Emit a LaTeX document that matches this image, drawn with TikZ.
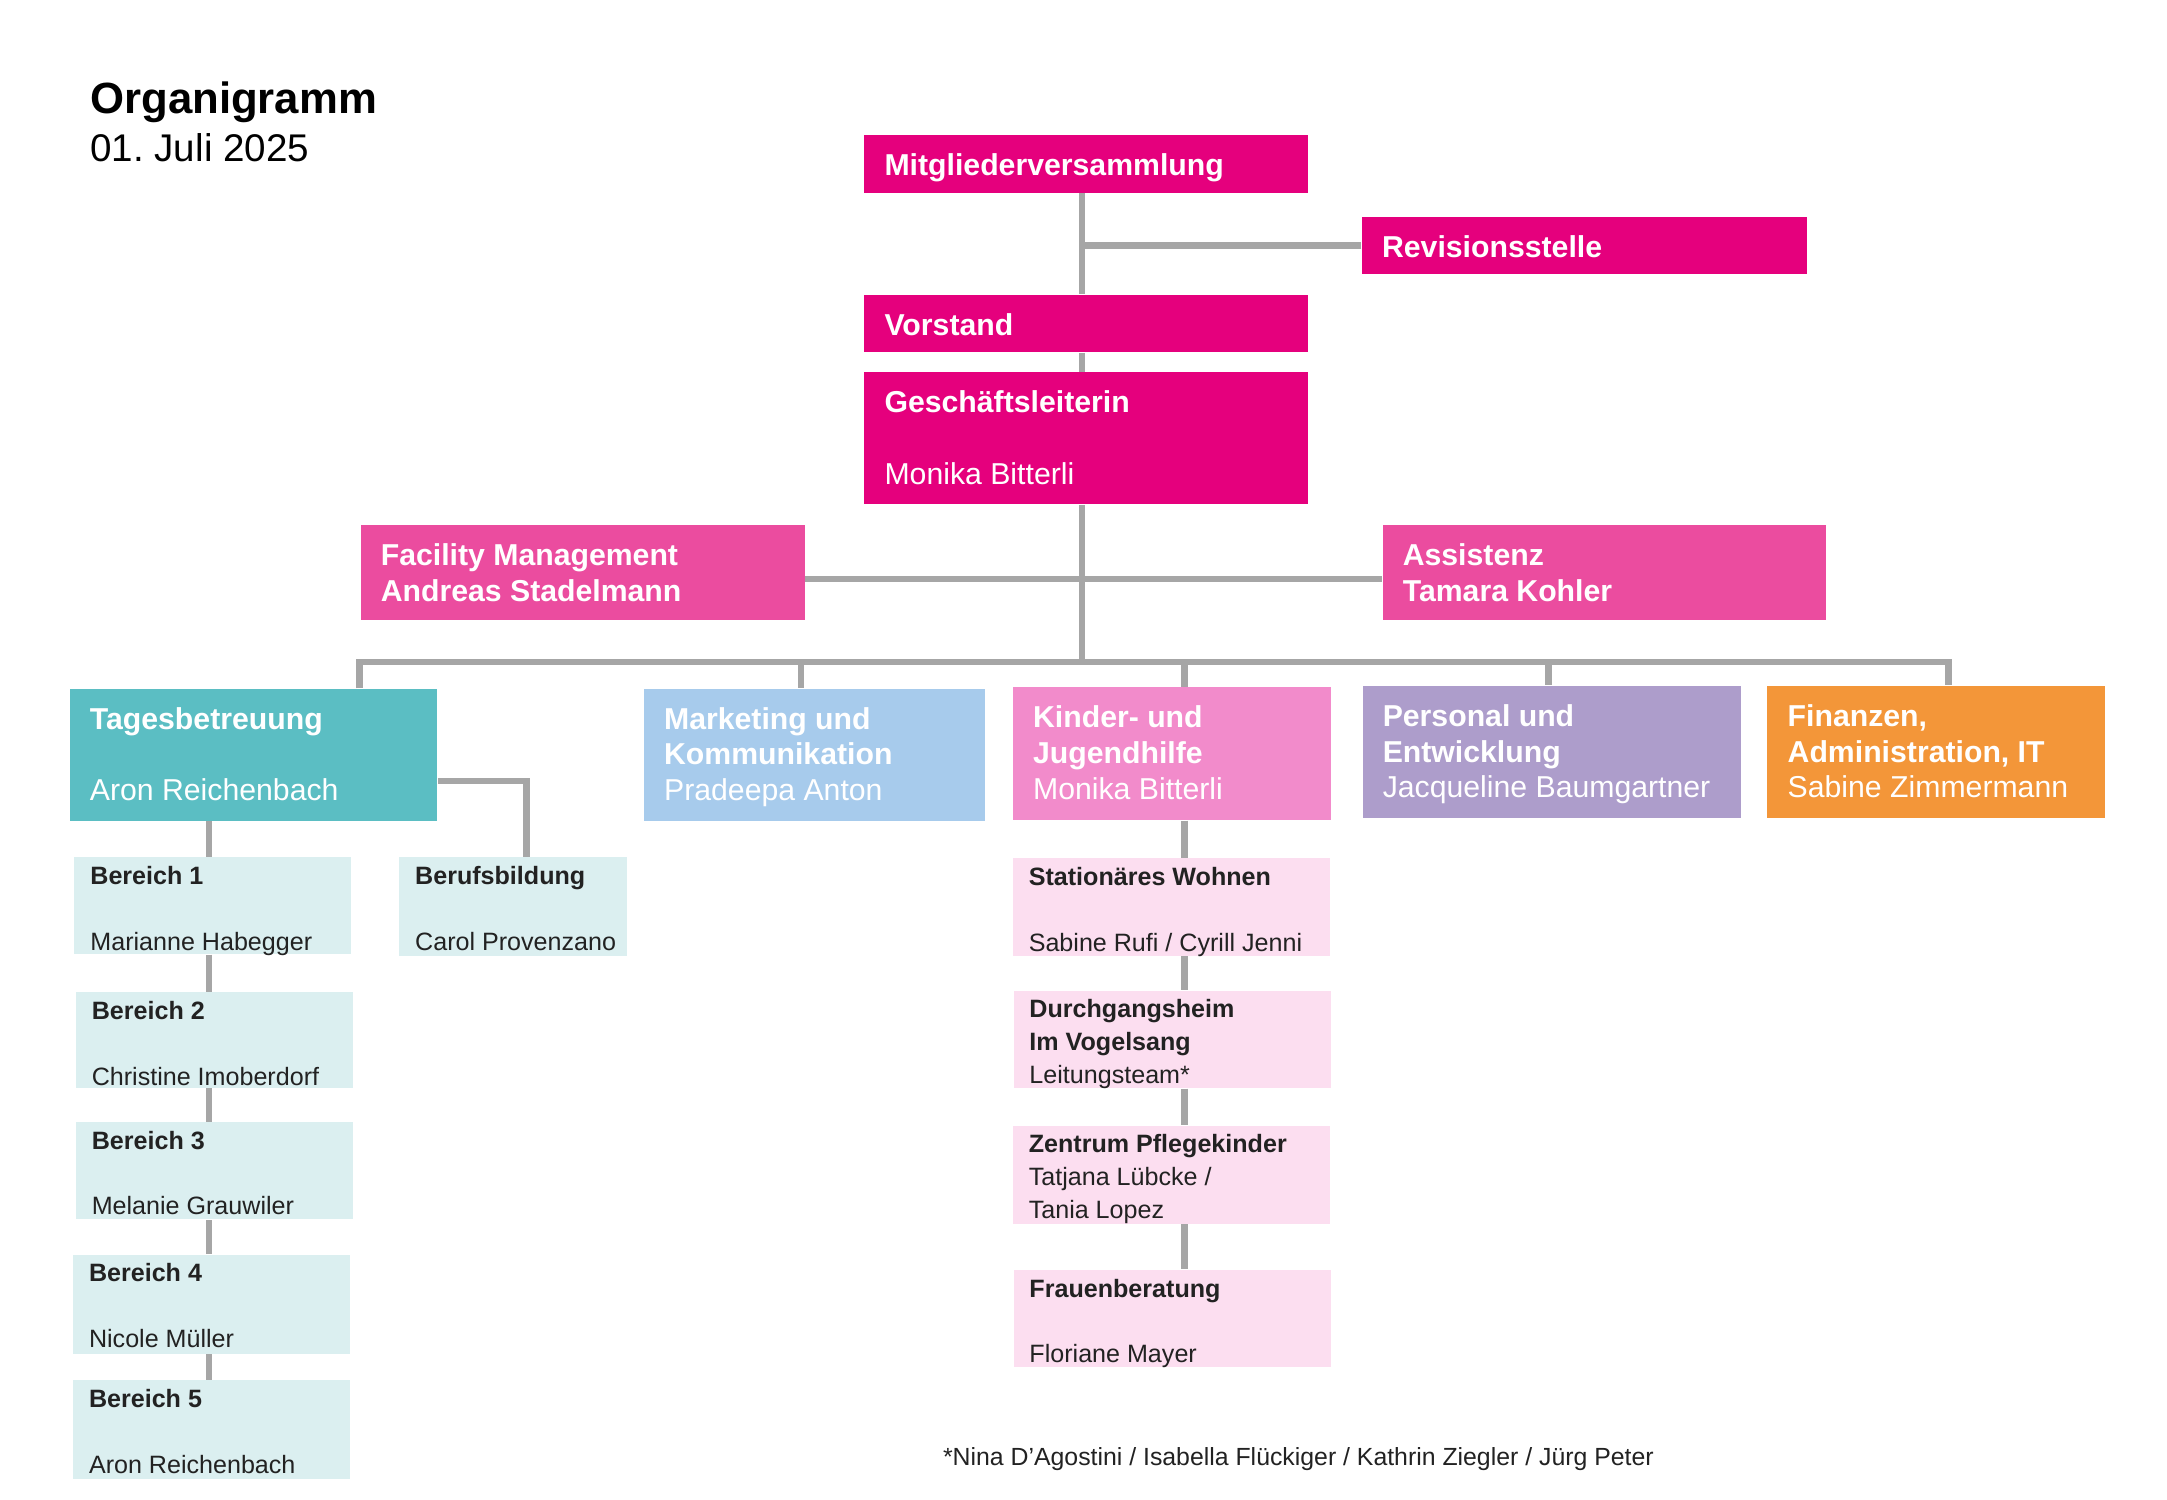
\documentclass[tikz,border=0pt]{standalone}
\usepackage{fontspec}
\setmainfont{Liberation Sans}
\usetikzlibrary{calc, positioning}
\frenchspacing

\definecolor{magentaDark}{HTML}{E5007D}
\definecolor{magentaMid}{HTML}{EB4C9F}
\definecolor{tealHead}{HTML}{5BBEC3}
\definecolor{skyHead}{HTML}{A7CBEC}
\definecolor{pinkHead}{HTML}{F28BCB}
\definecolor{lilacHead}{HTML}{AD9DCB}
\definecolor{orangeHead}{HTML}{F39639}
\definecolor{tealPale}{HTML}{DBEFF0}
\definecolor{pinkPale}{HTML}{FCDEF0}
\definecolor{lineGray}{HTML}{A6A6A6}
\definecolor{inkGray}{HTML}{222222}

\newcommand{\unitlen}{0.18mm}
\tikzset{
    unitBox/.style={rectangle, draw=none, inner sep=0pt, anchor=north west},
    bigText/.style={anchor=north west, inner xsep=7.5pt, inner ysep=6.9pt, align=left, text=white, font=\fontsize{11.2}{13.2}\selectfont},
    smallText/.style={anchor=north west, inner xsep=5.9pt, inner ysep=3.3pt, align=left, text=inkGray, font=\fontsize{9.3}{12.2}\selectfont},
    orgLine/.style={draw=lineGray, line width=2.4pt},
}
\newcommand{\drawUnit}[8]{
    \node[unitBox, fill=#1, minimum width=#6*\unitlen, minimum height=#7*\unitlen] (#3) at (#4,#5) {};
    \node[#2] (#3txt) at (#3.north west) {#8};
}
\newcommand{\linkDown}[3]{
    \draw[orgLine] (#2.south -| #1) -- (#3.north -| #1);
}

\begin{document}
\begin{tikzpicture}[x=0.18mm, y=-0.18mm]
    \useasboundingbox (0,0) rectangle (1568,1085);

    % title
    \node[anchor=base west, inner sep=0pt, font=\fontsize{16.2}{19}\selectfont\bfseries] (title) at (65,82.4) {Organigramm};
    \node[anchor=base west, inner sep=0pt, font=\fontsize{14.3}{17}\selectfont] (date) at (65,117) {01. Juli 2025};

    % top level
    \drawUnit{magentaDark}{bigText}{mitglied}{625}{97.5}{321}{41.5}{\textbf{Mitgliederversammlung}}
    \drawUnit{magentaDark}{bigText}{revision}{985}{156.5}{322}{41.5}{\textbf{Revisionsstelle}}
    \drawUnit{magentaDark}{bigText}{vorstand}{625}{213}{321}{41.5}{\textbf{Vorstand}}
    \drawUnit{magentaDark}{bigText}{gl}{625}{269}{321}{95.5}{\textbf{Geschäftsleiterin}\\[13.2pt]Monika Bitterli}
    \drawUnit{magentaMid}{bigText}{facility}{260.5}{379.5}{321.5}{69}{\textbf{Facility Management}\\\textbf{Andreas Stadelmann}}
    \drawUnit{magentaMid}{bigText}{assist}{1000}{379.5}{321}{69}{\textbf{Assistenz}\\\textbf{Tamara Kohler}}

    % departments
    \drawUnit{tealHead}{bigText}{tages}{50}{498}{266}{95.5}{\textbf{Tagesbetreuung}\\[13.2pt]Aron Reichenbach}
    \drawUnit{skyHead}{bigText}{marketing}{465.5}{498}{246.5}{95.5}{\textbf{Marketing und}\\\textbf{Kommunikation}\\Pradeepa Anton}
    \drawUnit{pinkHead}{bigText}{kinder}{732.5}{497}{230}{96}{\textbf{Kinder- und}\\\textbf{Jugendhilfe}\\Monika Bitterli}
    \drawUnit{lilacHead}{bigText}{personal}{985.5}{496}{273.5}{95.5}{\textbf{Personal und}\\\textbf{Entwicklung}\\Jacqueline Baumgartner}
    \drawUnit{orangeHead}{bigText}{finanzen}{1278.5}{496}{244}{95.5}{\textbf{Finanzen,}\\\textbf{Administration, IT}\\Sabine Zimmermann}

    % Tagesbetreuung
    \drawUnit{tealPale}{smallText}{bereichA}{53.5}{620}{200}{70}{\textbf{Bereich 1}\\[12.2pt]Marianne Habegger}
    \drawUnit{tealPale}{smallText}{bereichB}{54.5}{717.5}{200.5}{69}{\textbf{Bereich 2}\\[12.2pt]Christine Imoberdorf}
    \drawUnit{tealPale}{smallText}{bereichC}{54.5}{811.5}{200.5}{70.5}{\textbf{Bereich 3}\\[12.2pt]Melanie Grauwiler}
    \drawUnit{tealPale}{smallText}{bereichD}{52.5}{907.5}{200.5}{71.5}{\textbf{Bereich 4}\\[12.2pt]Nicole Müller}
    \drawUnit{tealPale}{smallText}{bereichE}{52.5}{998.5}{200.5}{71}{\textbf{Bereich 5}\\[12.2pt]Aron Reichenbach}
    \drawUnit{tealPale}{smallText}{beruf}{288.5}{620}{164.5}{71}{\textbf{Berufsbildung}\\[12.2pt]Carol Provenzano}

    % Kinder- und Jugendhilfe
    \drawUnit{pinkPale}{smallText}{station}{732.5}{620.5}{229.5}{70.5}{\textbf{Stationäres Wohnen}\\[12.2pt]Sabine Rufi / Cyrill Jenni}
    \drawUnit{pinkPale}{smallText}{durch}{733}{716.5}{229.5}{70.5}{\textbf{Durchgangsheim}\\\textbf{Im Vogelsang}\\Leitungsteam*}
    \drawUnit{pinkPale}{smallText}{zentrum}{732.5}{814}{229.5}{71}{\textbf{Zentrum Pflegekinder}\\Tatjana Lübcke /\\Tania Lopez}
    \drawUnit{pinkPale}{smallText}{frauen}{733}{918.5}{229.5}{70.5}{\textbf{Frauenberatung}\\[12.2pt]Floriane Mayer}

    \node[anchor=base west, inner sep=0pt, text=inkGray, font=\fontsize{9.2}{11}\selectfont] (note) at (682,1060.6) {*Nina D’Agostini / Isabella Flückiger / Kathrin Ziegler / Jürg Peter};

    % connectors
    \coordinate (spine) at (783,479);
    \coordinate (fmRow) at (783,419);
    \coordinate (dTages) at (260,479);
    \coordinate (dMarketing) at (579.5,479);
    \coordinate (dKinder) at (857,479);
    \coordinate (dPersonal) at (1120.4,479);
    \coordinate (dFinanzen) at (1410,479);
    \coordinate (bx) at (151.3,0);
    \coordinate (tbCorner) at (381,565);

    \linkDown{spine}{mitglied}{vorstand}
    \linkDown{spine}{vorstand}{gl}
    \draw[orgLine] (revision.west) -- (revision.west -| spine);
    \draw[orgLine] (spine |- gl.south) -- (spine);
    \draw[orgLine] (fmRow -| facility.east) -- (fmRow -| assist.west);
    \draw[orgLine] (dTages |- tages.north) -- (dTages) -- (dFinanzen) -- (dFinanzen |- finanzen.north);
    \draw[orgLine] (dMarketing) -- (dMarketing |- marketing.north);
    \draw[orgLine] (dKinder) -- (dKinder |- kinder.north);
    \draw[orgLine] (dPersonal) -- (dPersonal |- personal.north);

    \draw[orgLine] (tbCorner -| tages.east) -- (tbCorner) -- (tbCorner |- beruf.north);
    \linkDown{bx}{tages}{bereichA}
    \linkDown{bx}{bereichA}{bereichB}
    \linkDown{bx}{bereichB}{bereichC}
    \linkDown{bx}{bereichC}{bereichD}
    \linkDown{bx}{bereichD}{bereichE}

    \linkDown{dKinder}{kinder}{station}
    \linkDown{dKinder}{station}{durch}
    \linkDown{dKinder}{durch}{zentrum}
    \linkDown{dKinder}{zentrum}{frauen}

\end{tikzpicture}
\end{document}
